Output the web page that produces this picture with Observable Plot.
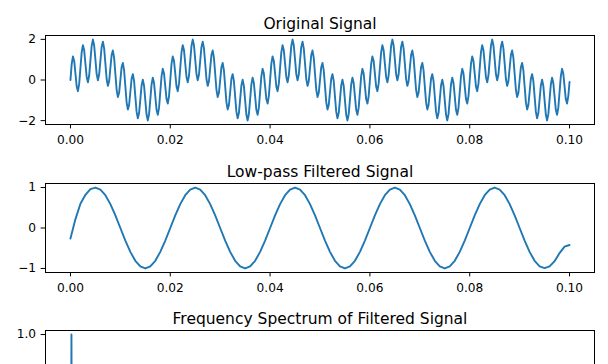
<!DOCTYPE html>
<html>
<head>
<meta charset="utf-8">
<script src="https://cdn.jsdelivr.net/npm/d3@7"></script>
<script src="https://cdn.jsdelivr.net/npm/@observablehq/plot@0.6"></script>
<style>
  html, body { margin: 0; padding: 0; background: #fff; }
  #chart svg { display: block; }
</style>
</head>
<body>
<div id="chart"></div>
<script>
// ---- data ----
const titles = ["Original Signal", "Low-pass Filtered Signal", "Frequency Spectrum of Filtered Signal"];

// Original signal: sampled every 0.25 ms from 0 to 0.1 s
const originalStep = 0.00025;
const originalValues = [
  0, 0.79, 1.16, 0.94, 0.31, -0.32, -0.55, -0.18, 0.59, 1.36, 1.71, 1.47, 0.81, 0.15, -0.11, 0.22, 0.95, 1.68, 1.99, 1.70,
  1.00, 0.29, -0.01, 0.27, 0.95, 1.63, 1.89, 1.56, 0.81, 0.05, -0.29, -0.06, 0.59, 1.23, 1.45, 1.09, 0.31, -0.47, -0.84, -0.63,
  0, 0.63, 0.84, 0.47, -0.31, -1.09, -1.45, -1.23, -0.59, 0.06, 0.29, -0.05, -0.81, -1.56, -1.89, -1.63, -0.95, -0.27, 0.01, -0.29,
  -1.00, -1.70, -1.99, -1.68, -0.95, -0.22, 0.11, -0.15, -0.81, -1.47, -1.71, -1.36, -0.59, 0.18, 0.55, 0.32, -0.31, -0.94, -1.16, -0.79,
  0, 0.79, 1.16, 0.94, 0.31, -0.32, -0.55, -0.18, 0.59, 1.36, 1.71, 1.47, 0.81, 0.15, -0.11, 0.22, 0.95, 1.68, 1.99, 1.70,
  1.00, 0.29, -0.01, 0.27, 0.95, 1.63, 1.89, 1.56, 0.81, 0.05, -0.29, -0.06, 0.59, 1.23, 1.45, 1.09, 0.31, -0.47, -0.84, -0.63,
  0, 0.63, 0.84, 0.47, -0.31, -1.09, -1.45, -1.23, -0.59, 0.06, 0.29, -0.05, -0.81, -1.56, -1.89, -1.63, -0.95, -0.27, 0.01, -0.29,
  -1.00, -1.70, -1.99, -1.68, -0.95, -0.22, 0.11, -0.15, -0.81, -1.47, -1.71, -1.36, -0.59, 0.18, 0.55, 0.32, -0.31, -0.94, -1.16, -0.79,
  0, 0.79, 1.16, 0.94, 0.31, -0.32, -0.55, -0.18, 0.59, 1.36, 1.71, 1.47, 0.81, 0.15, -0.11, 0.22, 0.95, 1.68, 1.99, 1.70,
  1.00, 0.29, -0.01, 0.27, 0.95, 1.63, 1.89, 1.56, 0.81, 0.05, -0.29, -0.06, 0.59, 1.23, 1.45, 1.09, 0.31, -0.47, -0.84, -0.63,
  0, 0.63, 0.84, 0.47, -0.31, -1.09, -1.45, -1.23, -0.59, 0.06, 0.29, -0.05, -0.81, -1.56, -1.89, -1.63, -0.95, -0.27, 0.01, -0.29,
  -1.00, -1.70, -1.99, -1.68, -0.95, -0.22, 0.11, -0.15, -0.81, -1.47, -1.71, -1.36, -0.59, 0.18, 0.55, 0.32, -0.31, -0.94, -1.16, -0.79,
  0, 0.79, 1.16, 0.94, 0.31, -0.32, -0.55, -0.18, 0.59, 1.36, 1.71, 1.47, 0.81, 0.15, -0.11, 0.22, 0.95, 1.68, 1.99, 1.70,
  1.00, 0.29, -0.01, 0.27, 0.95, 1.63, 1.89, 1.56, 0.81, 0.05, -0.29, -0.06, 0.59, 1.23, 1.45, 1.09, 0.31, -0.47, -0.84, -0.63,
  0, 0.63, 0.84, 0.47, -0.31, -1.09, -1.45, -1.23, -0.59, 0.06, 0.29, -0.05, -0.81, -1.56, -1.89, -1.63, -0.95, -0.27, 0.01, -0.29,
  -1.00, -1.70, -1.99, -1.68, -0.95, -0.22, 0.11, -0.15, -0.81, -1.47, -1.71, -1.36, -0.59, 0.18, 0.55, 0.32, -0.31, -0.94, -1.16, -0.79,
  0, 0.79, 1.16, 0.94, 0.31, -0.32, -0.55, -0.18, 0.59, 1.36, 1.71, 1.47, 0.81, 0.15, -0.11, 0.22, 0.95, 1.68, 1.99, 1.70,
  1.00, 0.29, -0.01, 0.27, 0.95, 1.63, 1.89, 1.56, 0.81, 0.05, -0.29, -0.06, 0.59, 1.23, 1.45, 1.09, 0.31, -0.47, -0.84, -0.63,
  0, 0.63, 0.84, 0.47, -0.31, -1.09, -1.45, -1.23, -0.59, 0.06, 0.29, -0.05, -0.81, -1.56, -1.89, -1.63, -0.95, -0.27, 0.01, -0.29,
  -1.00, -1.70, -1.99, -1.68, -0.95, -0.22, 0.11, -0.15, -0.81, -1.47, -1.71, -1.36, -0.59, 0.18, 0.55, 0.32, -0.31, -0.94, -1.16, -0.79,
  -0.10
];

// Low-pass filtered signal: sampled every 1 ms from 0 to 0.1 s
const filteredStep = 0.001;
const filteredValues = [
  -0.26, 0.22, 0.60, 0.82, 0.96, 1.00, 0.95, 0.81, 0.59, 0.31, 0, -0.31, -0.59, -0.81, -0.95, -1.00, -0.95, -0.81, -0.59, -0.31,
  0, 0.31, 0.59, 0.81, 0.95, 1.00, 0.95, 0.81, 0.59, 0.31, 0, -0.31, -0.59, -0.81, -0.95, -1.00, -0.95, -0.81, -0.59, -0.31,
  0, 0.31, 0.59, 0.81, 0.95, 1.00, 0.95, 0.81, 0.59, 0.31, 0, -0.31, -0.59, -0.81, -0.95, -1.00, -0.95, -0.81, -0.59, -0.31,
  0, 0.31, 0.59, 0.81, 0.95, 1.00, 0.95, 0.81, 0.59, 0.31, 0, -0.31, -0.59, -0.81, -0.95, -1.00, -0.95, -0.81, -0.59, -0.31,
  0, 0.31, 0.59, 0.81, 0.95, 1.00, 0.95, 0.81, 0.59, 0.31, 0, -0.31, -0.59, -0.81, -0.95, -0.99, -0.95, -0.82, -0.62, -0.46,
  -0.42
];

// Frequency spectrum of filtered signal (normalised magnitude)
const spectrumFreq = [0, 10, 20, 30, 40, 50, 60, 70, 80, 100, 200, 500, 1000, 5000, 10000, 25000];
const spectrumMag  = [0.01, 0.01, 0.02, 0.03, 0.08, 1.0, 0.08, 0.03, 0.02, 0.01, 0, 0, 0, 0, 0, 0];

// tick labels (only those inside the visible window are drawn for the spectrum)
const timeTicks = [0, 0.02, 0.04, 0.06, 0.08, 0.10];
const originalTicks = [-2, 0, 2];
const filteredTicks = [-1, 0, 1];
const spectrumTicks = [1.0];
const freqTicks = [];

// ---- build tables ----
const original = originalValues.map((v, i) => ({t: i * originalStep, v}));
const filtered = filteredValues.map((v, i) => ({t: i * filteredStep, v}));
const spectrum = spectrumFreq.map((f, i) => ({f, m: spectrumMag[i]}));

const BLUE = "#1f77b4";
const FRAME_H = 89;

function panel({data, x, y, xDomain, xTicks, xFmt, yDomain, yTicks, yFmt, title, mt, mb}) {
  return Plot.plot({
    width: 608,
    height: mt + FRAME_H + mb,
    marginLeft: 45,
    marginRight: 14,
    marginTop: mt,
    marginBottom: mb,
    style: {fontFamily: "DejaVu Sans", fontSize: "12.2px", color: "#000", background: "#fff", overflow: "visible"},
    x: {domain: xDomain, ticks: xTicks, tickFormat: xFmt, label: null},
    y: {domain: yDomain, ticks: yTicks, tickFormat: yFmt, label: null},
    marks: [
      Plot.axisX({ticks: xTicks, tickFormat: xFmt, tickSize: 4.4, tickPadding: 6.4, label: null, stroke: "#000", fill: "#000"}),
      Plot.axisY({ticks: yTicks, tickFormat: yFmt, tickSize: 4.4, tickPadding: 5, label: null, stroke: "#000", fill: "#000"}),
      Plot.line(data, {x, y, stroke: BLUE, strokeWidth: 1.9, clip: true}),
      Plot.frame({stroke: "#000", strokeWidth: 1}),
      Plot.text([title], {frameAnchor: "top", dy: -7, lineAnchor: "bottom", fontSize: 15.5, fill: "#000", text: d => d})
    ]
  });
}

const chart = document.getElementById("chart");
chart.append(panel({
  data: original, x: "t", y: "v",
  xDomain: [-0.005, 0.105], xTicks: timeTicks, xFmt: d3.format(".2f"),
  yDomain: [-2.19, 2.19], yTicks: originalTicks, yFmt: d3.format("d"),
  title: titles[0], mt: 35, mb: 23
}));
chart.append(panel({
  data: filtered, x: "t", y: "v",
  xDomain: [-0.005, 0.105], xTicks: timeTicks, xFmt: d3.format(".2f"),
  yDomain: [-1.1, 1.1], yTicks: filteredTicks, yFmt: d3.format("d"),
  title: titles[1], mt: 36, mb: 23
}));
chart.append(panel({
  data: spectrum, x: "f", y: "m",
  xDomain: [-1250, 26250], xTicks: freqTicks, xFmt: d3.format("d"),
  yDomain: [-0.05, 1.05], yTicks: spectrumTicks, yFmt: d3.format(".1f"),
  title: titles[2], mt: 35, mb: 30
}));
</script>
</body>
</html>
